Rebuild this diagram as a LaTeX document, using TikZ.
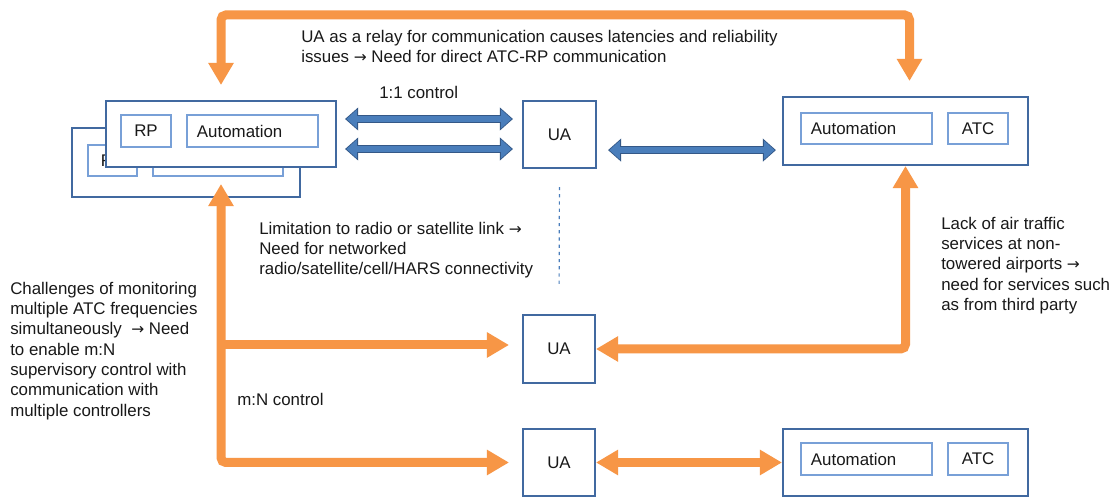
\documentclass[tikz,border=0pt]{standalone}
\usepackage{fontspec}
\setmainfont{Liberation Sans}
\newfontfamily\arrowfont{DejaVu Sans}
\usepackage{tikz}
\usetikzlibrary{
	arrows.meta,
	calc,
	positioning
}
\definecolor{BoxBlue}{RGB}{65,105,160}
\definecolor{InBlue}{RGB}{120,160,215}
\definecolor{ArrBlue}{RGB}{74,126,187}
\definecolor{ArrEdge}{RGB}{52,88,135}
\definecolor{ArrOrange}{RGB}{247,150,70}
\definecolor{TextBlack}{RGB}{25,25,25}
\newcommand{\toarrow}{{\arrowfont\fontsize{11pt}{14.5pt}\selectfont →}}

\tikzset{
	otip/.tip={Triangle[width=0.6cm,length=0.55cm]},
	box/.style={draw=BoxBlue, line width=0.05cm, fill=white, inner sep=0pt},
	inbox/.style={draw=InBlue, line width=0.03cm, fill=white, inner sep=0pt, minimum height=0.8cm},
	autobox/.style={inbox, text width=2.775cm, inner xsep=0.25cm, align=left},
	note/.style={inner sep=0pt, align=left, anchor=north west},
	orangearrow/.style={draw=ArrOrange, line width=0.225cm, rounded corners=0.12cm},
	blueedge/.style={draw=ArrEdge, line width=0.21cm, {Triangle[width=0.56cm,length=0.33cm]}-{Triangle[width=0.56cm,length=0.33cm]}},
	bluefill/.style={draw=ArrBlue, line width=0.15cm, {Triangle[width=0.45cm,length=0.26cm]}-{Triangle[width=0.45cm,length=0.26cm]}}
}

\begin{document}
\begin{tikzpicture}[x=0.025cm, y=-0.025cm, font=\fontsize{12pt}{14.5pt}\selectfont, text=TextBlack]
	\fill[white] (0,0) rectangle (1120,497);
	\useasboundingbox (0,0) rectangle (1120,497);

	% remote pilot stations (one behind the other)
	\node[box, minimum width=5.7cm, minimum height=1.725cm] (rpback) at (186,162.5) {};
	\node[inbox, minimum width=1.225cm, minimum height=0.775cm] (rpbackin) at (112.5,160.5) {RP};
	\node[inbox, minimum width=3.25cm, minimum height=0.775cm] (autobackin) at (218,160.5) {};
	\node[box, minimum width=5.75cm, minimum height=1.65cm] (rpfront) at (221,134) {};
	\node[inbox, minimum width=1.25cm] (rp) at (146,131) {RP};
	\node[autobox] (rpauto) at (252.5,131) {Automation};

	% aircraft
	\node[box, minimum width=1.825cm, minimum height=1.675cm] (ua1) at (559.5,134.5) {UA};
	\node[box, minimum width=1.8cm, minimum height=1.7cm] (ua2) at (559,349) {UA};
	\node[box, minimum width=1.8cm, minimum height=1.675cm] (ua3) at (559,462.5) {UA};

	% control towers
	\node[box, minimum width=6.125cm, minimum height=1.7cm] (atc1) at (905.5,131) {};
	\node[autobox, minimum height=0.775cm] (atc1auto) at (866.5,128.5) {Automation};
	\node[inbox, minimum width=1.5cm, minimum height=0.775cm] (atc1atc) at (978,128.5) {ATC};
	\node[box, minimum width=6.125cm, minimum height=1.675cm] (atc2) at (905.5,462.5) {};
	\node[autobox] (atc2auto) at (866.5,459) {Automation};
	\node[inbox, minimum width=1.5cm] (atc2atc) at (978,459) {ATC};

	% 1:1 links
	\draw[blueedge, shorten <=0.2cm, shorten >=0.225cm] ([yshift=0.375cm]rpfront.east) -- ([yshift=0.375cm]rpfront.east -| ua1.west);
	\draw[bluefill, shorten <=0.235cm, shorten >=0.26cm] ([yshift=0.375cm]rpfront.east) -- ([yshift=0.375cm]rpfront.east -| ua1.west);
	\draw[blueedge, shorten <=0.2cm, shorten >=0.225cm] ([yshift=-0.375cm]rpfront.east) -- ([yshift=-0.375cm]rpfront.east -| ua1.west);
	\draw[bluefill, shorten <=0.235cm, shorten >=0.26cm] ([yshift=-0.375cm]rpfront.east) -- ([yshift=-0.375cm]rpfront.east -| ua1.west);
	\draw[blueedge, shorten <=0.275cm, shorten >=0.15cm] ([yshift=-0.39cm]ua1.east) -- ([yshift=-0.39cm]ua1.east -| atc1.west);
	\draw[bluefill, shorten <=0.31cm, shorten >=0.185cm] ([yshift=-0.39cm]ua1.east) -- ([yshift=-0.39cm]ua1.east -| atc1.west);

	\draw[ArrBlue, line width=0.03cm, dash pattern=on 0.08cm off 0.1cm, shorten <=0.45cm, shorten >=0.675cm] (ua1.south) -- (ua2.north);

	% orange links
	\coordinate (loop) at (560,15);
	\draw[orangearrow, otip-otip, shorten <=0.375cm, shorten >=0.375cm] (rpfront.north) |- (loop) -| ([xshift=0.1cm]atc1.north);
	\draw[orangearrow, otip-otip, shorten <=0.4cm, shorten >=0.325cm] (rpfront.south) |- (ua3.west);
	\draw[orangearrow, -otip, shorten >=0.325cm] ([yshift=0.1cm]rpfront.south |- ua2.west) -- ([yshift=0.1cm]ua2.west);
	\draw[orangearrow, otip-otip] (atc1.south) |- (ua2.east);
	\draw[orangearrow, otip-otip] (ua3.east) -- (atc2.west);

	% notes
	\node[note] (relay) at (301,29.5) {UA as a relay for communication causes latencies and reliability\\issues \toarrow\ Need for direct ATC-RP communication};
	\node[note] (oneone) at (379,85.5) {1:1 control};
	\node[note] (limit) at (259,221.5) {Limitation to radio or satellite link \toarrow\\Need for networked\\radio/satellite/cell/HARS connectivity};
	\node[note] (monitor) at (10,281.5) {Challenges of monitoring\\multiple ATC frequencies\\simultaneously \ \toarrow\ Need\\to enable m:N\\supervisory control with\\communication with\\multiple controllers};
	\node[note] (lack) at (941,216.5) {Lack of air traffic\\services at non-\\towered airports \toarrow\\need for services such\\as from third party};
	\node[note] (mn) at (237,392.5) {m:N control};
\end{tikzpicture}
\end{document}
